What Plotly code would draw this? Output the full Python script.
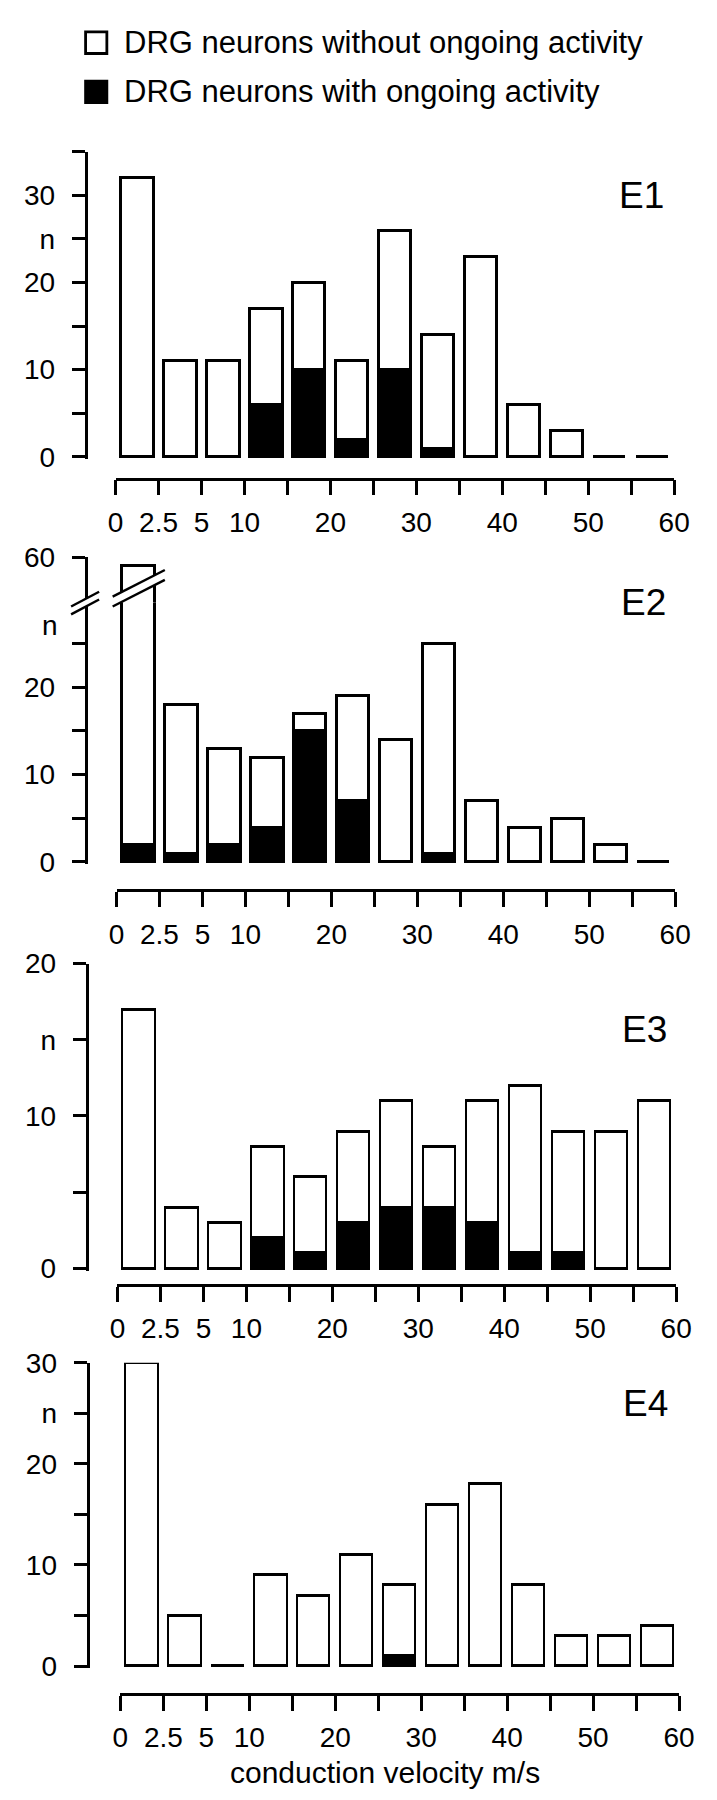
import plotly.graph_objects as go

# ---------------- data ----------------
bins = ["0-2.5", "2.5-5", "5-10", "10-15", "15-20", "20-25", "25-30",
        "30-35", "35-40", "40-45", "45-50", "50-55", "55-60"]
edge_labels = ["0", "2.5", "5", "10", "", "20", "", "30", "", "40", "", "50", "", "60"]

series_names = ["DRG neurons without ongoing activity", "DRG neurons with ongoing activity"]
panel_names = ["E1", "E2", "E3", "E4"]

E1_with = [0, 0, 0, 6, 10, 2, 10, 1, 0, 0, 0, 0, 0]
E1_without = [32, 11, 11, 11, 10, 9, 16, 13, 23, 6, 3, 0, 0]

E2_with = [2, 1, 2, 4, 15, 7, 0, 1, 0, 0, 0, 0, 0]
E2_without = [57, 17, 11, 8, 2, 12, 14, 24, 7, 4, 5, 2, 0]

E3_with = [0, 0, 0, 2, 1, 3, 4, 4, 3, 1, 1, 0, 0]
E3_without = [17, 4, 3, 6, 5, 6, 7, 4, 8, 11, 8, 9, 11]

E4_with = [0, 0, 0, 0, 0, 0, 1, 0, 0, 0, 0, 0, 0]
E4_without = [30, 5, 0, 9, 7, 11, 7, 16, 18, 8, 3, 3, 4]

E1_yticks = [0, 5, 10, 15, 20, 25, 30, 35]
E1_ytext = ["0", "", "10", "", "20", "n", "30", ""]
E2_yticks = [0, 5, 10, 15, 20, 25]
E2_ytext = ["0", "", "10", "", "20", ""]
E2_upper_ticks = [60]
E2_upper_text = ["60"]
E3_yticks = [0, 5, 10, 15, 20]
E3_ytext = ["0", "", "10", "n", "20"]
E4_yticks = [0, 5, 10, 15, 20, 25, 30]
E4_ytext = ["0", "", "10", "", "20", "n", "30"]

x_title = "conduction velocity m/s"

# ---------------- layout helpers ----------------
W, H = 717, 1800
FONT = "Liberation Sans, Arial, sans-serif"
LW = 2.8


def xp(px):
    return px / W


def yp(py):
    return 1 - py / H


nb = len(bins)
xc = [i + 0.5 for i in range(nb)]

geo = {
    1: dict(yx=72, xline=463, x0=103, x1=681, y0=441, ytop=130.7, top=35),
    2: dict(yx=72, xline=881.7, x0=104, x1=682, y0=852.7, ytop=589, top=None),
    3: dict(yx=73, xline=1282.3, x0=105, x1=683, y0=1265.7, ytop=956, top=20),
    4: dict(yx=74, xline=1698.3, x0=108, x1=686, y0=1670, ytop=1361.7, top=30),
}
e2_scale = (852.7 - 630.7) / 25.0
geo[2]["top"] = (852.7 - 589) / e2_scale

panels = {
    1: (E1_with, E1_without, E1_yticks, E1_ytext),
    2: (E2_with, E2_without, E2_yticks, E2_ytext),
    3: (E3_with, E3_without, E3_yticks, E3_ytext),
    4: (E4_with, E4_without, E4_yticks, E4_ytext),
}

fig = go.Figure()
tickfont = dict(family=FONT, size=28, color="black")


def add_bars(k, yname, with_v, without_v):
    fig.add_trace(go.Bar(x=xc, y=with_v, width=0.75, name=series_names[1],
                         marker=dict(color="black", line=dict(color="black", width=LW)),
                         xaxis="x%d" % k, yaxis=yname, showlegend=False))
    fig.add_trace(go.Bar(x=xc, y=without_v, width=0.75, name=series_names[0],
                         marker=dict(color="white", line=dict(color="black", width=LW)),
                         xaxis="x%d" % k, yaxis=yname, showlegend=False))


layout_axes = {}
for k in range(1, 5):
    g = geo[k]
    w_v, wo_v, yt, ytt = panels[k]
    add_bars(k, "y%d" % k, w_v, wo_v)
    scale = (g["y0"] - g["ytop"]) / g["top"]
    pad = -0.2
    ybot_px = g["y0"] - pad * scale
    layout_axes["xaxis%d" % k] = dict(
        domain=[xp(g["x0"]), xp(g["x1"])], range=[0, nb], anchor="free",
        position=yp(g["xline"]), showline=True, linecolor="black", linewidth=LW,
        ticks="outside", ticklen=15, tickwidth=LW, tickcolor="black",
        tickvals=list(range(nb + 1)), ticktext=edge_labels, tickfont=tickfont,
        showgrid=False, zeroline=False, fixedrange=True, ticklabelstandoff=3)
    layout_axes["yaxis%d" % k] = dict(
        domain=[yp(ybot_px), yp(g["ytop"])], range=[pad, g["top"]], anchor="free",
        position=xp(g["yx"]), showline=True, linecolor="black", linewidth=LW,
        ticks="outside", ticklen=13, tickwidth=LW, tickcolor="black",
        tickvals=yt, ticktext=ytt, tickfont=tickfont, ticklabelstandoff=11,
        showgrid=False, zeroline=False, fixedrange=True)

# E2: part of the axis above the break
add_bars(2, "y5", E2_with, E2_without)
up_top_val = E2_upper_ticks[0]
up_bot_val = up_top_val - (589 - 543) / e2_scale
layout_axes["yaxis5"] = dict(
    domain=[yp(589), yp(543)], range=[up_bot_val, up_top_val], anchor="free",
    position=xp(72), showline=True, linecolor="black", linewidth=LW,
    ticks="outside", ticklen=13, tickwidth=LW, tickcolor="black",
    tickvals=E2_upper_ticks, ticktext=E2_upper_text, tickfont=tickfont,
    ticklabelstandoff=11, showgrid=False, zeroline=False, fixedrange=True)

shapes = []
# axis-break marks (white gap + two slashes) on the axis and on the first bar
ax_up = [(57, 593), (86, 578)]
ax_lo = [(57, 601), (86, 586)]
bar_up = [(100, 583), (154, 556)]
bar_lo = [(100, 593), (154, 566)]
for up, lo in [(ax_up, ax_lo), (bar_up, bar_lo)]:
    path = "M %f,%f L %f,%f L %f,%f L %f,%f Z" % (
        xp(up[0][0]), yp(up[0][1]), xp(up[1][0]), yp(up[1][1]),
        xp(lo[1][0]), yp(lo[1][1]), xp(lo[0][0]), yp(lo[0][1]))
    shapes.append(dict(type="path", path=path, xref="paper", yref="paper",
                       fillcolor="white", line=dict(width=0), layer="above"))
    for seg in (up, lo):
        shapes.append(dict(type="line", xref="paper", yref="paper",
                           x0=xp(seg[0][0]), y0=yp(seg[0][1]),
                           x1=xp(seg[1][0]), y1=yp(seg[1][1]),
                           line=dict(color="black", width=2.4), layer="above"))

# legend (drawn by hand to get the large square keys)
leg_rows = [(20, "white"), (70, "black")]
annotations = []
for (cy, col), name in zip(leg_rows, series_names):
    shapes.append(dict(type="rect", xref="paper", yref="paper",
                       x0=xp(72), x1=xp(94), y0=yp(cy - 11), y1=yp(cy + 11),
                       fillcolor=col, line=dict(color="black", width=LW)))
    annotations.append(dict(x=xp(110), y=yp(cy), xref="paper", yref="paper",
                            text=name, showarrow=False, xanchor="left", yanchor="middle",
                            font=dict(family=FONT, size=31, color="black")))

# panel labels
label_pos = [(647, 175), (649, 589), (650, 1023), (651, 1403)]
for (lx, ly), name in zip(label_pos, panel_names):
    annotations.append(dict(x=xp(lx), y=yp(ly), xref="paper", yref="paper", text=name,
                            showarrow=False, xanchor="center", yanchor="middle",
                            font=dict(family=FONT, size=37, color="black")))

# "n" label of E2 (sits above the 25 tick)
annotations.append(dict(x=xp(46), y=yp(612), xref="paper", yref="paper", text="n",
                        showarrow=False, xanchor="right", yanchor="middle",
                        font=tickfont))

# x-axis title
annotations.append(dict(x=xp(382), y=yp(1778), xref="paper", yref="paper", text=x_title,
                        showarrow=False, xanchor="center", yanchor="middle",
                        font=dict(family=FONT, size=30, color="black")))

fig.update_layout(
    width=W, height=H, margin=dict(l=0, r=0, t=0, b=0),
    paper_bgcolor="white", plot_bgcolor="white", barmode="stack", bargap=0,
    showlegend=False, shapes=shapes, annotations=annotations, **layout_axes)

fig.write_html("out.html")
